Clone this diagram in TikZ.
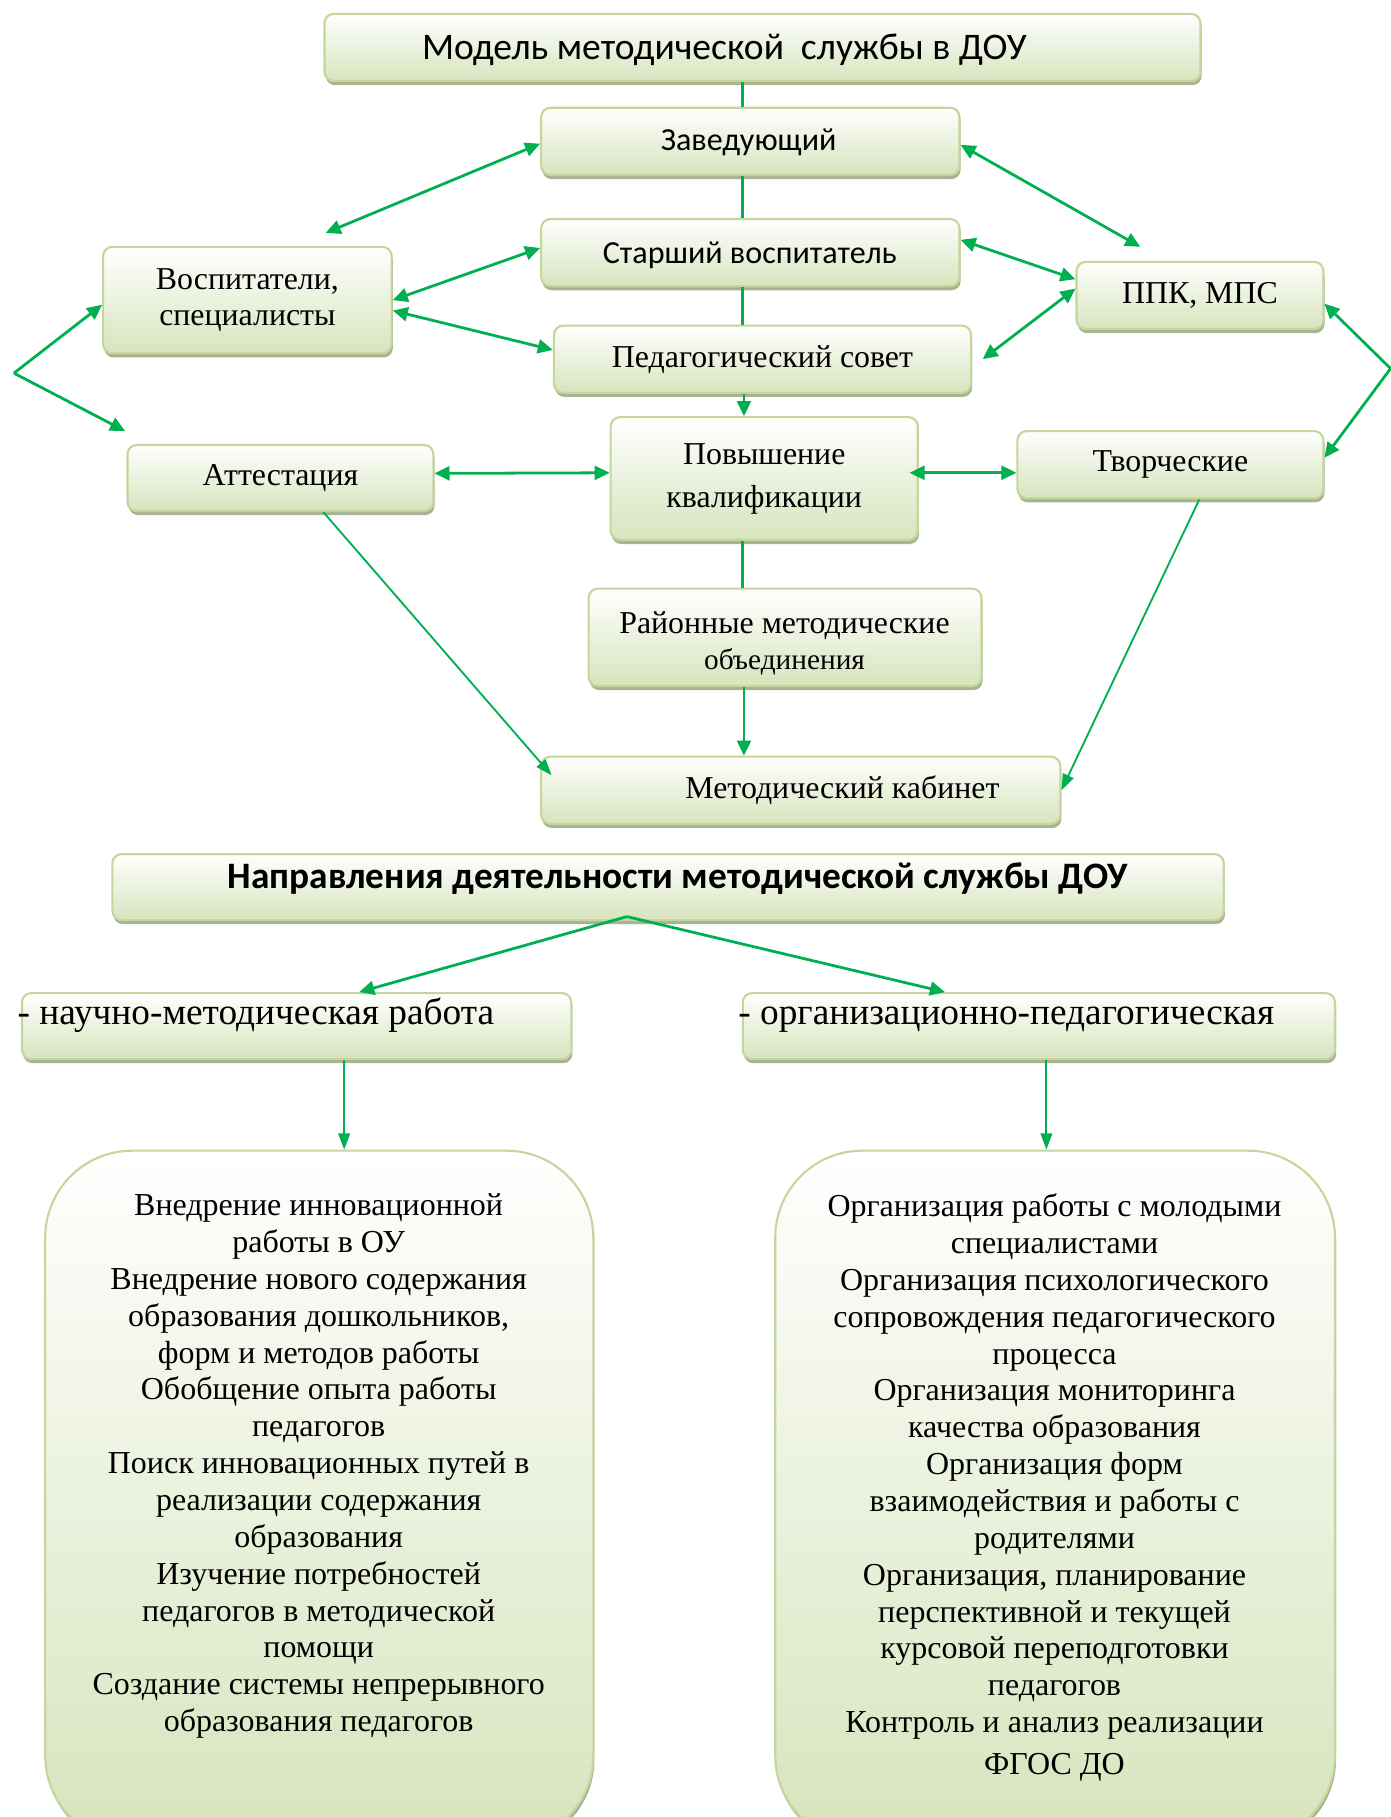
\documentclass[tikz,border=0pt]{standalone}
\usepackage{fontspec}
\setmainfont{Liberation Serif}
\newfontfamily\calfont{Carlito}
\usetikzlibrary{arrows.meta,shadows}
\definecolor{gbord}{HTML}{C3D69B}
\definecolor{gbot}{HTML}{D7E4BD}
\definecolor{gshad}{HTML}{A9B293}
\definecolor{agreen}{HTML}{00B050}
\begin{document}
\begin{tikzpicture}[x=1pt,y=-1pt,
  box/.style={draw=gbord, line width=1.8pt, rounded corners=8pt, top color=white, bottom color=gbot,
    inner sep=0pt, align=center,
    drop shadow={shadow xshift=1pt, shadow yshift=-3.5pt, fill=gshad, opacity=1}},
  bigbox/.style={box, rounded corners=75pt},
  tms/.style={font=\fontsize{27.5}{31}\selectfont},
  cal/.style={font=\calfont\fontsize{27.7}{32}\selectfont},
  txt/.style={inner sep=0pt, align=center},
  con/.style={agreen, line width=2.4pt},
  arr/.style={con, -{Triangle[length=13pt,width=12pt]}},
  dbl/.style={con, {Triangle[length=13pt,width=12pt]}-{Triangle[length=13pt,width=12pt]}},
  thin/.style={agreen, line width=1.6pt, -{Triangle[length=14pt,width=10pt]}}
]
\useasboundingbox (0,0) rectangle (1200,1568);

% ---------- upper part ----------
\node[box, minimum width=756pt, minimum height=58pt] (title) at (658,41) {};
\node[txt, font=\calfont\fontsize{32.4}{36}\selectfont] (titletxt) at (625,43) {Модель методической\ \ службы в ДОУ};

\node[box, minimum width=361pt, minimum height=58pt] (zav) at (647.5,122) {};
\node[txt, cal] (zavtxt) at (646,123) {Заведующий};
\node[box, minimum width=361pt, minimum height=58pt] (star) at (647.5,218) {};
\node[txt, cal] (startxt) at (647,220) {Старший воспитатель};
\node[box, tms, minimum width=360pt, minimum height=58pt] (ped) at (658,310) {Педагогический совет};
\node[box, tms, minimum width=249pt, minimum height=92pt] (vosp) at (213.5,259) {Воспитатели,\\специалисты};
\node[box, tms, minimum width=213pt, minimum height=58pt] (ppk) at (1035.5,255) {ППК, МПС};
\node[box, font=\fontsize{27.5}{37}\selectfont, minimum width=265pt, minimum height=106pt] (pov) at (659.5,413) {Повышение\\квалификации};
\node[box, tms, minimum width=264pt, minimum height=57pt] (att) at (242,412.5) {Аттестация};
\node[box, tms, minimum width=264pt, minimum height=58pt] (tvor) at (1010,401) {Творческие};
\node[box, minimum width=339pt, minimum height=84pt] (rmo) at (677.5,550) {};
\node[txt, font=\fontsize{27.5}{31}\selectfont] (rmotxt) at (677,555) {Районные методические\\\fontsize{25.3}{31}\selectfont объединения};
\node[box, minimum width=448pt, minimum height=58pt] (kab) at (691,682) {};
\node[txt, tms] (kabtxt) at (727,682) {Методический кабинет};

% ---------- lower part ----------
\node[box, minimum width=959pt, minimum height=57pt] (napr) at (576.5,765.5) {};
\node[txt, font=\calfont\bfseries\fontsize{32.2}{36}\selectfont] (naprtxt) at (585,758) {Направления деятельности методической службы ДОУ};

\node[box, minimum width=474pt, minimum height=57pt] (nauch) at (256,885.5) {};
\node[txt, font=\fontsize{32.2}{36}\selectfont, anchor=base west] (nauchtxt) at (15,884) {- научно-методическая работа};
\node[box, minimum width=511pt, minimum height=57pt] (org) at (896.5,885.5) {};
\node[txt, font=\fontsize{32.2}{36}\selectfont, anchor=base west] (orgtxt) at (637,884) {- организационно-педагогическая};

\node[bigbox, minimum width=473pt, minimum height=597pt] (lbox) at (275.5,1291.5) {};
\node[bigbox, minimum width=483pt, minimum height=597pt] (rbox) at (910.5,1291.5) {};

\node[txt, font=\fontsize{27.6}{31.8}\selectfont, anchor=north] (ltxt) at (275,1030) {Внедрение инновационной\\работы в ОУ\\Внедрение нового содержания\\образования дошкольников,\\форм и методов работы\\Обобщение опыта работы\\педагогов\\Поиск инновационных путей в\\реализации содержания\\образования\\Изучение потребностей\\педагогов в методической\\помощи\\Создание системы непрерывного\\образования педагогов};
\node[txt, font=\fontsize{27.6}{31.8}\selectfont, anchor=north] (rtxt) at (910,1030) {Организация работы с молодыми\\специалистами\\Организация психологического\\сопровождения педагогического\\процесса\\Организация мониторинга\\качества образования\\Организация форм\\взаимодействия и работы с\\родителями\\Организация, планирование\\перспективной и текущей\\курсовой переподготовки\\педагогов\\Контроль и анализ реализации\\[4pt]ФГОС ДО};

% ---------- connectors ----------
\coordinate (spine) at (641,0);
\draw[con] (title.south -| spine) -- (zav.north -| spine);
\draw[con] (zav.south -| spine) -- (star.north -| spine);
\draw[con] (star.south -| spine) -- (ped.north -| spine);
\coordinate (spine2) at (642,0);
\draw[arr] (ped.south -| spine2) -- (pov.north -| spine2);
\draw[con] (pov.south -| spine) -- (rmo.north -| spine);
\draw[arr] (rmo.south -| spine2) -- (kab.north -| spine2);

\coordinate (vospTop) at (281,201);
\draw[dbl] (vospTop) -- ([yshift=-2pt]zav.west);
\draw[dbl] (vosp.east) -- ([yshift=4pt]star.west);
\draw[dbl] ([yshift=-9pt]vosp.east) -- ([yshift=8pt]ped.west);

\coordinate (ppkTop) at (984,213);
\draw[dbl] ([yshift=-3pt]zav.east) -- (ppkTop);
\draw[dbl] ([yshift=11pt]star.east) -- ([yshift=14pt]ppk.west);
\coordinate (pedRight) at (848,310);
\draw[dbl] (pedRight) -- ([yshift=6pt]ppk.west);

\coordinate (lfork) at (12,322);
\coordinate (attTop) at (108,372);
\draw[arr] (lfork) -- ([yshift=-4pt]vosp.west);
\draw[arr] (lfork) -- (attTop);

\coordinate (rfork) at (1200,318);
\draw[arr] (rfork) -- ([yshift=-7pt]ppk.east);
\draw[arr] (rfork) -- ([yshift=6pt]tvor.east);

\draw[dbl] ([yshift=4pt]att.east) -- ([yshift=5pt]pov.west);
\draw[dbl] ([xshift=-8pt,yshift=5pt]pov.east) -- ([yshift=-7pt]tvor.west);

\coordinate (kabL) at (476,669);
\draw[thin] ([xshift=37pt]att.south) -- (kabL);
\draw[thin] ([xshift=25pt]tvor.south) -- (kab.east);

\coordinate (naprB) at (541,791);
\draw[arr] (naprB) -- ([xshift=54pt]nauch.north);
\draw[arr] (naprB) -- ([xshift=-81pt]org.north);

\coordinate (lvert) at (297,0);
\coordinate (rvert) at (903,0);
\draw[thin] (nauch.south -| lvert) -- (lbox.north -| lvert);
\draw[thin] (org.south -| rvert) -- (rbox.north -| rvert);
\end{tikzpicture}
\end{document}
